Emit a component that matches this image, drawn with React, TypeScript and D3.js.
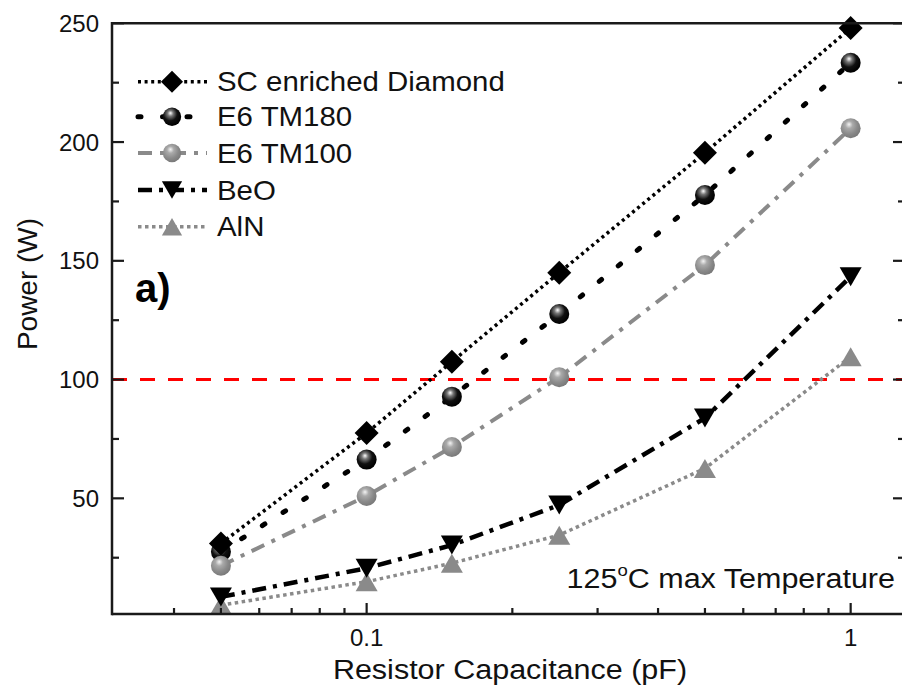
import React from "react";
import * as d3 from "d3";

const capacitance = [0.05, 0.1, 0.15, 0.25, 0.5, 1];
const scDiamond = [31, 77.5, 107.5, 145, 195.5, 248];
const e6tm180 = [27.5, 66.3, 92.8, 127.6, 177.7, 233.4];
const e6tm100 = [21.6, 51, 71.6, 101, 148.2, 205.8];
const beo = [8.5, 20.6, 30.3, 47.2, 83.8, 143.3];
const aln = [5, 14.9, 22.7, 34.5, 62.6, 109.6];

const yTicks = [50, 100, 150, 200, 250];
const yMinorTicks = [25, 75, 125, 175, 225];
const xTicks = [0.1, 1];
const xMinorTicks = [0.04, 0.05, 0.06, 0.07, 0.08, 0.09, 0.2, 0.3, 0.4, 0.5, 0.6, 0.7, 0.8, 0.9];
const xTickLabels = ["0.1", "1"];
const threshold = 100;

const GREY = "#8a8a8a";
const FONT = "'Liberation Sans', Arial, sans-serif";
const STRETCH = 1.09;

type Series = {
  name: string;
  values: number[];
  color: string;
  dash: string;
  width: number;
  cap: "butt" | "round";
  marker: "diamond" | "sphereBlack" | "sphereGrey" | "down" | "up";
};

const series: Series[] = [
  { name: "SC enriched Diamond", values: scDiamond, color: "#000", dash: "3 3.6", width: 3.5, cap: "butt", marker: "diamond" },
  { name: "E6 TM180", values: e6tm180, color: "#000", dash: "3 21.5", width: 5, cap: "round", marker: "sphereBlack" },
  { name: "E6 TM100", values: e6tm100, color: GREY, dash: "14 8 4 8", width: 4, cap: "butt", marker: "sphereGrey" },
  { name: "BeO", values: beo, color: "#000", dash: "14 7 4 7", width: 4.5, cap: "butt", marker: "down" },
  { name: "AlN", values: aln, color: GREY, dash: "3.5 3.5", width: 3.5, cap: "butt", marker: "up" },
];

const W = 902;
const H = 686;
const left = 112;
const right = 905;
const top = 23.3;
const bottom = 614;

const x = d3.scaleLog().domain([0.02978, 1.295]).range([left, right]);
const y = d3.scaleLinear().domain([1.3, 250]).range([bottom, top]);

function Marker({ kind, cx, cy, s = 1 }: { kind: Series["marker"]; cx: number; cy: number; s?: number }) {
  if (kind === "diamond") {
    const r = 12 * s;
    return <path d={`M${cx},${cy - r}L${cx + r},${cy}L${cx},${cy + r}L${cx - r},${cy}Z`} fill="#000" />;
  }
  if (kind === "sphereBlack") {
    return <circle cx={cx} cy={cy} r={10 * s} fill="url(#gBlack)" />;
  }
  if (kind === "sphereGrey") {
    return <circle cx={cx} cy={cy} r={10 * s} fill="url(#gGrey)" />;
  }
  const hw = 11 * s;
  const hh = 9.5 * s;
  if (kind === "down") {
    return <path d={`M${cx - hw},${cy - hh}L${cx + hw},${cy - hh}L${cx},${cy + hh}Z`} fill="#000" />;
  }
  return <path d={`M${cx - hw},${cy + hh}L${cx + hw},${cy + hh}L${cx},${cy - hh}Z`} fill={GREY} />;
}

export default function App() {
  const line = d3
    .line<number>()
    .x((_, i) => x(capacitance[i]))
    .y((d) => y(d));

  const legendY = [81.7, 116.7, 153, 190, 226.7];
  const drawOrder = [4, 1, 3, 0, 2];

  return (
    <svg
      width={W}
      height={H}
      style={{ position: "absolute", left: 0, top: 0, background: "#fff" }}
      fontFamily={FONT}
    >
      <defs>
        <radialGradient id="gBlack" cx="0.4" cy="0.38" r="0.62" fx="0.42" fy="0.3">
          <stop offset="0" stopColor="#ffffff" />
          <stop offset="0.25" stopColor="#777" />
          <stop offset="0.6" stopColor="#111" />
          <stop offset="1" stopColor="#000" />
        </radialGradient>
        <radialGradient id="gGrey" cx="0.4" cy="0.38" r="0.62" fx="0.42" fy="0.3">
          <stop offset="0" stopColor="#f4f4f4" />
          <stop offset="0.3" stopColor="#aaa" />
          <stop offset="0.7" stopColor="#8a8a8a" />
          <stop offset="1" stopColor="#7a7a7a" />
        </radialGradient>
        <clipPath id="plot">
          <rect x={left} y={top} width={right - left} height={bottom - top} />
        </clipPath>
      </defs>

      {/* threshold line */}
      <line
        x1={left}
        x2={right}
        y1={y(threshold)}
        y2={y(threshold)}
        stroke="#ff0000"
        strokeWidth={3}
        strokeDasharray="15 13"
      />

      {/* series lines */}
      <g clipPath="url(#plot)">
        {series.map((s) => (
          <path
            key={s.name}
            d={line(s.values) || ""}
            fill="none"
            stroke={s.color}
            strokeWidth={s.width}
            strokeDasharray={s.dash}
            strokeLinecap={s.cap}
          />
        ))}
      </g>

      {/* markers */}
      <g>
        {drawOrder.map((si) =>
          series[si].values.map((v, i) => (
            <Marker key={`${si}-${i}`} kind={series[si].marker} cx={x(capacitance[i])} cy={y(v)} />
          ))
        )}
      </g>

      {/* frame */}
      <g stroke="#1a1a1a" strokeWidth={2.5} fill="none">
        <line x1={left} x2={left} y1={top - 1.2} y2={bottom + 1.2} />
        <line x1={left} x2={right} y1={bottom} y2={bottom} />
        <line x1={left} x2={right} y1={top} y2={top} />
        <line x1={right} x2={right} y1={top} y2={bottom} />
      </g>

      {/* ticks */}
      <g stroke="#1a1a1a" strokeWidth={2.2}>
        {yTicks.map((t) => (
          <g key={t}>
            <line x1={left} x2={left + 12} y1={y(t)} y2={y(t)} />
            <line x1={right} x2={right - 12} y1={y(t)} y2={y(t)} />
          </g>
        ))}
        {yMinorTicks.map((t) => (
          <g key={t}>
            <line x1={left} x2={left + 7} y1={y(t)} y2={y(t)} />
            <line x1={right} x2={right - 7} y1={y(t)} y2={y(t)} />
          </g>
        ))}
        {xTicks.map((t) => (
          <line key={t} x1={x(t)} x2={x(t)} y1={bottom} y2={bottom - 11} />
        ))}
        {xMinorTicks.map((t) => (
          <line key={t} x1={x(t)} x2={x(t)} y1={bottom} y2={bottom - 6} />
        ))}
      </g>

      {/* tick labels */}
      <g fontSize={24} fill="#111">
        {yTicks.map((t) => (
          <text key={t} x={99} y={y(t) + 8.5} textAnchor="end">
            {t}
          </text>
        ))}
        {xTicks.map((t, i) => (
          <text key={t} x={x(t)} y={646} textAnchor="middle">
            {xTickLabels[i]}
          </text>
        ))}
      </g>

      {/* axis titles */}
      <g transform={`translate(510,679) scale(${STRETCH},1)`}>
        <text x={0} y={0} textAnchor="middle" fontSize={28} fill="#111">
          Resistor Capacitance (pF)
        </text>
      </g>
      <text
        transform={`translate(37,284) rotate(-90)`}
        textAnchor="middle"
        fontSize={28}
        fill="#111"
      >
        Power (W)
      </text>

      {/* panel label */}
      <text x={135} y={302} fontSize={40} fontWeight="bold" fill="#000">
        a)
      </text>

      {/* annotation */}
      <g transform={`translate(895,588) scale(${STRETCH},1)`}>
        <text x={0} y={0} textAnchor="end" fontSize={28} fill="#111">
          125<tspan fontSize={17} dy={-12}>o</tspan>
          <tspan dy={12}>C max Temperature</tspan>
        </text>
      </g>

      {/* legend */}
      <g>
        {series.map((s, i) => {
          const ly = legendY[i];
          return (
            <g key={s.name}>
              <line
                x1={138}
                x2={207}
                y1={ly}
                y2={ly}
                stroke={s.color}
                strokeWidth={s.width}
                strokeDasharray={s.dash}
                strokeLinecap={s.cap}
              />
              <Marker kind={s.marker} cx={172} cy={ly} s={0.92} />
              <g transform={`translate(217,${ly + 9.5}) scale(${STRETCH},1)`}>
                <text x={0} y={0} fontSize={27} fill="#111">
                  {s.name}
                </text>
              </g>
            </g>
          );
        })}
      </g>
    </svg>
  );
}
